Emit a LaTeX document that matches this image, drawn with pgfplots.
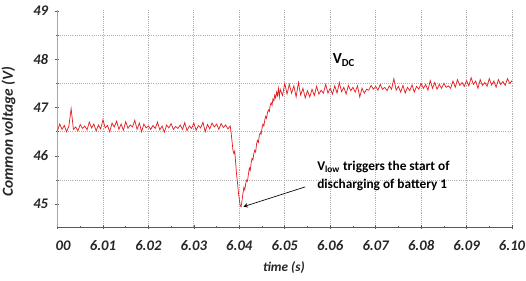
\documentclass[border=0pt]{standalone}
\usepackage{pgfplots}
\pgfplotsset{compat=1.18}
\usepackage{fontspec}
\setmainfont{Carlito}
\definecolor{vred}{RGB}{228,32,36}
\definecolor{gridc}{RGB}{175,175,175}
\definecolor{axc}{RGB}{90,90,90}
\begin{document}
\begin{tikzpicture}[x=1pt,y=1pt]
\path[use as bounding box] (-43.125pt,-40.5pt) rectangle (351.375pt,170.25pt);
\begin{axis}[
  at={(0pt,0pt)}, anchor=south west,
  scale only axis, width=340.9pt, height=162.75pt,
  xmin=6.0, xmax=6.1, ymin=44.53, ymax=49.02,
  axis x line=bottom, axis y line=left,
  axis line style={-, axc},
  y axis line style={line width=1.4pt, color=gray!70},
  xtick={6.00,6.01,6.02,6.03,6.04,6.05,6.06,6.07,6.08,6.09,6.10},
  xticklabels={\phantom{6.}00,6.01,6.02,6.03,6.04,6.05,6.06,6.07,6.08,6.09,6.10},
  minor xtick={6.005,6.015,6.025,6.035,6.045,6.055,6.065,6.075,6.085,6.095},
  ytick={45,46,47,48,49},
  minor ytick={45.5,46.5,47.5,48.5},
  xmajorgrids=true, yminorgrids=true, ymajorgrids=false,
  grid style={densely dotted, gridc, line width=0.6pt},
  minor grid style={densely dotted, gridc, line width=0.6pt},
  tick style={axc, line width=0.5pt},
  major tick length=3pt, minor tick length=2pt,
  tick align=center,
  /pgf/number format/assume math mode=true,
  tick label style={font=\fontsize{11}{13}\selectfont\bfseries\itshape, color=black!85},
  xticklabel style={yshift=-5pt},
  yticklabel style={xshift=-2pt},
  xlabel={time (s)},
  ylabel={Common voltage (V)},
  xlabel style={font=\fontsize{10}{12}\selectfont\bfseries\itshape, color=black!85, at={(axis description cs:0.498,0)}, anchor=center, yshift=-30.75pt},
  ylabel style={font=\fontsize{11.5}{13}\selectfont\bfseries\itshape, color=black!85, at={(axis description cs:-0.082,0.44)}, anchor=south},
  clip=false,
]
\addplot[vred, line width=0.55pt] coordinates {
(6.0000,46.52) (6.0005,46.66) (6.0010,46.55) (6.0015,46.63) (6.0020,46.50) (6.0025,46.62) (6.0030,46.98) (6.0035,46.55)
(6.0040,46.60) (6.0045,46.52) (6.0050,46.65) (6.0055,46.57) (6.0060,46.62) (6.0065,46.54) (6.0070,46.70) (6.0075,46.58)
(6.0080,46.66) (6.0085,46.52) (6.0090,46.64) (6.0095,46.56) (6.0100,46.75) (6.0105,46.58) (6.0110,46.63) (6.0115,46.50)
(6.0120,46.68) (6.0125,46.60) (6.0130,46.72) (6.0135,46.55) (6.0140,46.66) (6.0145,46.53) (6.0150,46.71) (6.0155,46.57)
(6.0160,46.64) (6.0165,46.60) (6.0170,46.74) (6.0175,46.55) (6.0180,46.68) (6.0185,46.50) (6.0190,46.66) (6.0195,46.58)
(6.0200,46.62) (6.0205,46.55) (6.0210,46.63) (6.0215,46.57) (6.0220,46.70) (6.0225,46.54) (6.0230,46.62) (6.0235,46.49)
(6.0240,46.64) (6.0245,46.58) (6.0250,46.67) (6.0255,46.55) (6.0260,46.61) (6.0265,46.57) (6.0270,46.64) (6.0275,46.55)
(6.0280,46.69) (6.0285,46.52) (6.0290,46.62) (6.0295,46.57) (6.0300,46.68) (6.0305,46.53) (6.0310,46.63) (6.0315,46.58)
(6.0320,46.70) (6.0325,46.50) (6.0330,46.65) (6.0335,46.56) (6.0340,46.68) (6.0345,46.60) (6.0350,46.66) (6.0355,46.55)
(6.0360,46.67) (6.0365,46.59) (6.0370,46.64) (6.0375,46.56) (6.0380,46.62) (6.0382,46.48) (6.0384,46.30) (6.0386,46.12)
(6.0388,46.05) (6.0390,46.10) (6.0392,45.85) (6.0394,45.62) (6.0396,45.45) (6.0398,45.25) (6.0400,45.10) (6.0402,44.97)
(6.0404,44.95) (6.0406,45.08) (6.0408,45.22) (6.0410,45.35) (6.0412,45.30) (6.0414,45.42) (6.0416,45.50) (6.0418,45.48)
(6.0420,45.62) (6.0422,45.75) (6.0424,45.70) (6.0426,45.85) (6.0428,45.95) (6.0430,45.92) (6.0432,46.05) (6.0434,46.12)
(6.0436,46.08) (6.0438,46.25) (6.0440,46.32) (6.0442,46.28) (6.0444,46.42) (6.0446,46.48) (6.0448,46.45) (6.0450,46.58)
(6.0452,46.66) (6.0454,46.62) (6.0456,46.74) (6.0458,46.82) (6.0460,46.78) (6.0462,46.90) (6.0464,46.95) (6.0466,46.92)
(6.0468,47.05) (6.0470,47.10) (6.0472,47.05) (6.0474,47.18) (6.0476,47.14) (6.0478,47.26) (6.0480,47.20) (6.0482,47.32)
(6.0484,47.25) (6.0486,47.40) (6.0488,47.22) (6.0490,47.38) (6.0495,47.25) (6.0500,47.50) (6.0505,47.28) (6.0510,47.48)
(6.0515,47.30) (6.0520,47.45) (6.0525,47.22) (6.0530,47.52) (6.0535,47.26) (6.0540,47.40) (6.0545,47.20) (6.0550,47.35)
(6.0555,47.22) (6.0560,47.38) (6.0565,47.25) (6.0570,47.44) (6.0575,47.28) (6.0580,47.36) (6.0585,47.30) (6.0590,47.48)
(6.0595,47.30) (6.0600,47.40) (6.0605,47.28) (6.0610,47.45) (6.0615,47.30) (6.0620,47.52) (6.0625,47.33) (6.0630,47.42)
(6.0635,47.28) (6.0640,47.46) (6.0645,47.35) (6.0650,47.42) (6.0655,47.32) (6.0660,47.45) (6.0665,47.22) (6.0670,47.40)
(6.0675,47.30) (6.0680,47.38) (6.0685,47.36) (6.0690,47.46) (6.0695,47.38) (6.0700,47.44) (6.0705,47.36) (6.0710,47.48)
(6.0715,47.38) (6.0720,47.42) (6.0725,47.35) (6.0730,47.45) (6.0735,47.38) (6.0740,47.60) (6.0745,47.36) (6.0750,47.44)
(6.0755,47.32) (6.0760,47.46) (6.0765,47.30) (6.0770,47.42) (6.0775,47.35) (6.0780,47.47) (6.0785,47.32) (6.0790,47.44)
(6.0795,47.38) (6.0800,47.50) (6.0805,47.40) (6.0810,47.48) (6.0815,47.36) (6.0820,47.56) (6.0825,47.40) (6.0830,47.52)
(6.0835,47.38) (6.0840,47.48) (6.0845,47.40) (6.0850,47.50) (6.0855,47.42) (6.0860,47.45) (6.0865,47.40) (6.0870,47.55)
(6.0875,47.42) (6.0880,47.58) (6.0885,47.46) (6.0890,47.52) (6.0895,47.44) (6.0900,47.56) (6.0905,47.45) (6.0910,47.62)
(6.0915,47.48) (6.0920,47.55) (6.0925,47.40) (6.0930,47.58) (6.0935,47.46) (6.0940,47.52) (6.0945,47.44) (6.0950,47.60)
(6.0955,47.47) (6.0960,47.55) (6.0965,47.42) (6.0970,47.58) (6.0975,47.48) (6.0980,47.54) (6.0985,47.46) (6.0990,47.60)
(6.0995,47.50) (6.1000,47.56)
};
\node[anchor=west, font=\fontsize{11.5}{13}\selectfont\bfseries, inner sep=0pt] at (axis cs:6.0605,47.98) {V\textsubscript{DC}};
\node[anchor=west, align=left, font=\fontsize{10}{13.5}\selectfont\bfseries, inner sep=0pt] at (axis cs:6.0571,45.58)
  {V\textsubscript{low} triggers the start of\\discharging of battery 1};
\draw[-stealth, black, line width=0.5pt] (axis cs:6.0545,45.36) -- (axis cs:6.0409,44.95);
\end{axis}
\end{tikzpicture}
\end{document}
